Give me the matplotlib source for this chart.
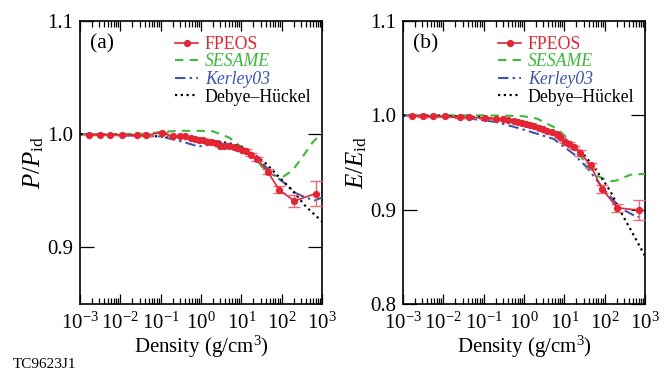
#!/usr/bin/env python3

"""P/P_id and E/E_id vs density: FPEOS against SESAME, Kerley03 and Debye-Hueckel."""

import matplotlib
matplotlib.use("Agg")
import matplotlib.pyplot as plt
from matplotlib.ticker import LogLocator, NullFormatter, FixedLocator

plt.rcParams["font.family"] = ["Liberation Serif", "DejaVu Serif"]
plt.rcParams["mathtext.fontset"] = "custom"
plt.rcParams["mathtext.rm"] = "Liberation Serif"
plt.rcParams["mathtext.it"] = "Liberation Serif:italic"

RED = "#e32636"
ERR = "#ea6a76"
GREEN = "#3cb93c"
BLUE = "#3d55b0"

# FPEOS points (same densities in both panels)
fp_rho = [0.0017, 0.0031, 0.0055, 0.011, 0.026, 0.043, 0.105, 0.2, 0.3, 0.4,
          0.55, 0.7, 0.9, 1.1, 1.4, 1.8, 2.3, 3.0, 3.8, 5.0,
          6.5, 8.0, 10.5, 13, 17, 25, 45, 86, 205, 690]
fp_p = [0.9995, 0.9995, 0.9995, 0.9995, 0.999, 0.999, 1.0015, 0.998, 0.9985, 0.998,
        0.9965, 0.996, 0.995, 0.995, 0.9935, 0.993, 0.992, 0.990, 0.990, 0.9895,
        0.989, 0.988, 0.986, 0.985, 0.982, 0.978, 0.967, 0.951, 0.941, 0.9475]
fp_p_err = [0.0005] * 22 + [0.001, 0.0015, 0.0015, 0.002, 0.002, 0.003, 0.005, 0.011]
fp_e = [0.9995, 0.999, 0.999, 0.999, 0.998, 0.998, 0.997, 0.9965, 0.996, 0.995,
        0.994, 0.993, 0.992, 0.991, 0.990, 0.989, 0.987, 0.985, 0.983, 0.982,
        0.980, 0.977, 0.972, 0.970, 0.966, 0.960, 0.947, 0.922, 0.902, 0.8995]
fp_e_err = [0.0005] * 22 + [0.001, 0.0015, 0.002, 0.003, 0.003, 0.004, 0.004, 0.0105]

# SESAME
ses_p_rho = [1e-3, 1e-2, 0.05, 0.1, 0.3, 1, 2, 5, 9, 19, 33, 60, 105, 185, 330, 590, 1000]
ses_p = [1.000, 1.000, 1.0005, 1.002, 1.003, 1.003, 1.0025, 0.997, 0.990, 0.981,
         0.971, 0.964, 0.962, 0.968, 0.980, 0.993, 1.001]
ses_e_rho = [1e-3, 0.1, 0.5, 1, 2.1, 6.5, 14, 30, 64, 137, 200, 430, 1000]
ses_e = [1.000, 1.000, 0.9995, 0.999, 0.9965, 0.986, 0.973, 0.952, 0.936, 0.930,
         0.931, 0.937, 0.938]

# Kerley03
ker_p_rho = [1e-3, 1e-2, 0.1, 0.3, 0.9, 1.9, 4, 13, 28, 59, 126, 222, 400, 650, 1000]
ker_p = [1.000, 0.999, 0.998, 0.994, 0.989, 0.993, 0.992, 0.986, 0.977, 0.965,
         0.956, 0.948, 0.944, 0.9415, 0.944]
ker_e_rho = [1e-3, 1e-2, 0.03, 0.2, 0.8, 5.4, 17, 36, 94, 240, 640, 1000]
ker_e = [1.000, 0.999, 0.9975, 0.993, 0.986, 0.975, 0.959, 0.945, 0.922, 0.902,
         0.892, 0.894]

# Debye-Hueckel
dh_p_rho = [1e-3, 1e-2, 0.1, 1, 5, 10, 19, 41, 87, 187, 400, 1000]
dh_p = [1.000, 0.9995, 0.998, 0.996, 0.992, 0.989, 0.983, 0.974, 0.962, 0.950,
        0.936, 0.923]
dh_e_rho = [1e-3, 1e-2, 0.1, 1, 5.4, 10, 25, 63, 137, 241, 425, 1000]
dh_e = [1.000, 0.9995, 0.998, 0.992, 0.982, 0.975, 0.963, 0.9415, 0.920, 0.899,
        0.880, 0.851]

x_ticks = [1e-3, 1e-2, 1e-1, 1e0, 1e1, 1e2, 1e3]

panels = [
    ("(a)", r"$P/P_{\rm id}$", (0.85, 1.1), [0.9, 1.0, 1.1],
     fp_p, fp_p_err, ses_p_rho, ses_p, ker_p_rho, ker_p, dh_p_rho, dh_p, 80),
    ("(b)", r"$E/E_{\rm id}$", (0.8, 1.1), [0.8, 0.9, 1.0, 1.1],
     fp_e, fp_e_err, ses_e_rho, ses_e, ker_e_rho, ker_e, dh_e_rho, dh_e, 403),
]

fig = plt.figure(figsize=(6.71, 3.69), dpi=100)

for (tag, ylab, ylim, yticks, fp, fp_err, s_x, s_y, k_x, k_y, d_x, d_y, left) in panels:
    ax = fig.add_axes([left / 671, 65 / 369, 242 / 671, 283 / 369])
    ax.errorbar(fp_rho, fp, yerr=fp_err, fmt="none", ecolor=ERR, elinewidth=1.0,
                capsize=4, capthick=1.0, zorder=4)
    ax.plot(fp_rho, fp, "-", color=RED, lw=1.2, marker="o", ms=4.2,
            label="FPEOS", zorder=5)
    ax.plot(s_x, s_y, color=GREEN, lw=1.5, dashes=(4, 3), label="SESAME", zorder=3)
    ax.plot(k_x, k_y, color=BLUE, lw=1.5, dashes=(5, 2, 1.2, 2), label="Kerley03", zorder=3)
    ax.plot(d_x, d_y, color="black", lw=1.6, dashes=(1, 1.6), label="Debye–Hückel", zorder=3)

    ax.set_xscale("log")
    ax.set_xlim(1e-3, 1e3)
    ax.set_ylim(*ylim)
    ax.xaxis.set_major_locator(FixedLocator(x_ticks))
    ax.xaxis.set_minor_locator(LogLocator(base=10, subs=range(2, 10), numticks=20))
    ax.xaxis.set_minor_formatter(NullFormatter())
    ax.set_yticks(yticks)
    ax.set_yticklabels([f"{v:.1f}" for v in yticks])
    ax.tick_params(which="both", direction="in", top=True, right=True,
                   labelsize=15, width=0.9)
    ax.tick_params(axis="x", which="major", length=7, pad=6)
    ax.tick_params(axis="x", which="minor", length=4)
    ax.tick_params(axis="y", which="major", length=10, pad=5)
    for sp in ax.spines.values():
        sp.set_linewidth(1.2)

    ax.set_xlabel("Density (g/cm$^3$)", fontsize=15, labelpad=0)
    ax.set_ylabel(ylab, fontsize=18, labelpad=1)
    ax.text(0.04, 0.92, tag, transform=ax.transAxes, fontsize=15.5, va="center", ha="left")

    leg = ax.legend(loc="upper right", bbox_to_anchor=(1.0, 0.985), frameon=False,
                    fontsize=12.8, handlelength=1.3, handletextpad=0.35,
                    labelspacing=0.03, borderaxespad=0.2)
    for txt, col, style in zip(leg.get_texts(), [RED, GREEN, BLUE, "black"],
                               ["normal", "italic", "italic", "normal"]):
        txt.set_color(col)
        txt.set_fontstyle(style)

fig.text(13 / 671, 1 - 364 / 369, "TC9623J1", fontsize=11, va="center", ha="left")

fig.savefig("out.png", dpi=100)
plt.close(fig)
